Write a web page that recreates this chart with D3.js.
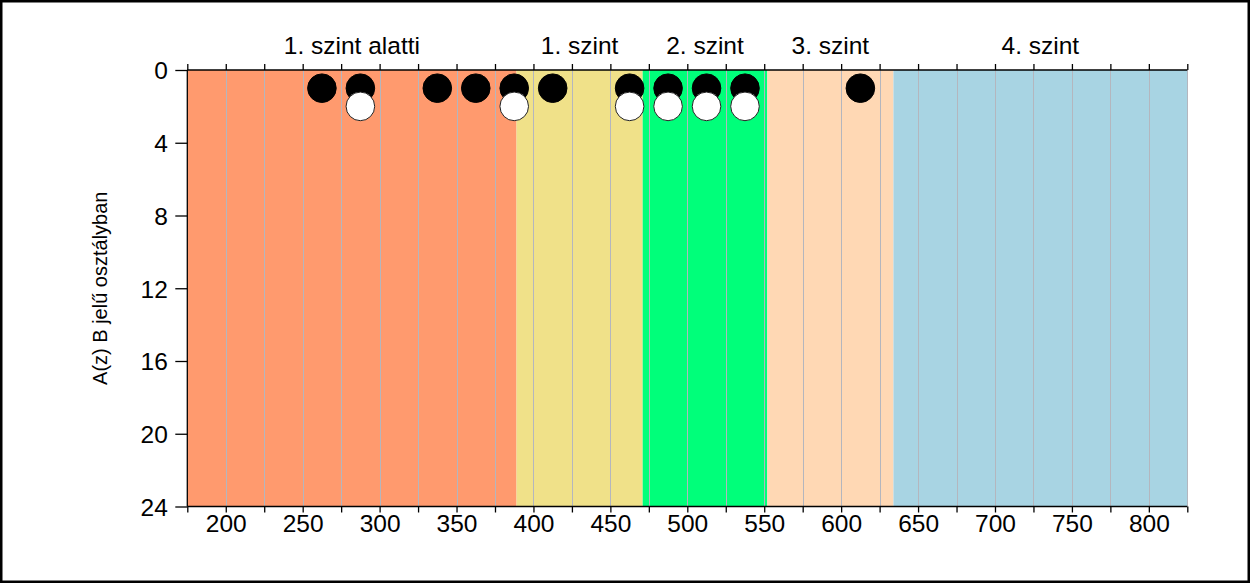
<!DOCTYPE html>
<html>
<head>
<meta charset="utf-8">
<script src="https://cdn.jsdelivr.net/npm/d3@7"></script>
<style>
  html, body { margin: 0; padding: 0; background: #fff; }
  svg { display: block; font-family: Arial, "Liberation Sans", sans-serif; }
</style>
</head>
<body>
<svg id="chart" width="1250" height="583"></svg>
<script>
// ---- data ----
const levelNames = ["1. szint alatti", "1. szint", "2. szint", "3. szint", "4. szint"];
const levelBounds = [175, 389, 471, 552, 634, 825];
const levelColors = ["#FF9A6E", "#F0E189", "#00FF7A", "#FFD8B4", "#A8D4E3"];
const blackX = [262.5, 287.5, 337.5, 362.5, 387.5, 412.5, 462.5, 487.5, 512.5, 537.5, 612.5];
const blackY = [1, 1, 1, 1, 1, 1, 1, 1, 1, 1, 1];
const whiteX = [287.5, 387.5, 462.5, 487.5, 512.5, 537.5];
const whiteY = [2, 2, 2, 2, 2, 2];
const xTickValues = [200, 250, 300, 350, 400, 450, 500, 550, 600, 650, 700, 750, 800];
const yTickValues = [0, 4, 8, 12, 16, 20, 24];
const yLabel = "A(z) B jelű osztályban";

// ---- layout ----
const svg = d3.select("#chart");
const W = 1250, H = 583;
const L = 187.3, R = 1187.3, T = 70, B = 506.5;

const x = d3.scaleLinear().domain([175, 825]).range([L, R]);
const y = d3.scaleLinear().domain([0, 24]).range([T, B]);

// outer frame
svg.append("rect").attr("x", 1.25).attr("y", 1.25).attr("width", W - 2.5).attr("height", H - 2.5)
  .attr("fill", "#fff").attr("stroke", "#000").attr("stroke-width", 2.5);

// bands
const bands = levelNames.map((n, i) => ({ name: n, x0: levelBounds[i], x1: levelBounds[i + 1], color: levelColors[i] }));
svg.append("g").selectAll("rect").data(bands).join("rect")
  .attr("x", d => x(d.x0)).attr("y", T)
  .attr("width", d => x(d.x1) - x(d.x0)).attr("height", B - T)
  .attr("fill", d => d.color);

// gridlines
const gridVals = d3.range(200, 826, 25);
svg.append("g").selectAll("line").data(gridVals).join("line")
  .attr("x1", d => Math.round(x(d)) + 0.5).attr("x2", d => Math.round(x(d)) + 0.5)
  .attr("y1", T).attr("y2", B)
  .attr("stroke", "#B4B6BE").attr("stroke-width", 1);

// level labels
svg.append("g").selectAll("text").data(bands).join("text")
  .attr("x", d => x((d.x0 + d.x1) / 2)).attr("y", 54)
  .attr("text-anchor", "middle").attr("font-size", 24.5).attr("fill", "#000")
  .text(d => d.name);

// axes
const minorTicks = d3.range(175, 826, 25);
const topAxis = d3.axisTop(x).tickValues(minorTicks).tickSize(6).tickFormat("");
svg.append("g").attr("transform", `translate(0,${T})`).call(topAxis)
  .call(g => g.select(".domain").attr("d", `M${L},0H${R}`));

const bottomAxis = d3.axisBottom(x).tickValues(minorTicks).tickSize(6)
  .tickFormat(d => xTickValues.includes(d) ? d : "");
const gb = svg.append("g").attr("transform", `translate(0,${B})`).call(bottomAxis);
gb.select(".domain").attr("d", `M${L},0H${R}`);
gb.selectAll("text").attr("font-size", 24.5).attr("font-family", "Arial, 'Liberation Sans', sans-serif")
  .attr("fill", "#000").attr("dy", 0).attr("y", 25.5);

const leftAxis = d3.axisLeft(y).tickValues(yTickValues).tickSize(12);
const gl = svg.append("g").attr("transform", `translate(${L},0)`).call(leftAxis);
gl.select(".domain").attr("d", `M0,${T}V${B}`);
gl.selectAll("text").attr("font-size", 24.5).attr("font-family", "Arial, 'Liberation Sans', sans-serif")
  .attr("fill", "#000").attr("x", -19.5).attr("dy", "0.36em");

svg.selectAll(".tick line, .domain").attr("stroke", "#000").attr("stroke-width", 1.3);

// y label
svg.append("text")
  .attr("transform", `translate(107,${(T + B) / 2}) rotate(-90)`)
  .attr("text-anchor", "middle").attr("font-size", 20).attr("fill", "#000")
  .text(yLabel);

// points
svg.append("g").selectAll("circle").data(blackX.map((v, i) => [v, blackY[i]])).join("circle")
  .attr("cx", d => x(d[0])).attr("cy", d => y(d[1])).attr("r", 14.3)
  .attr("fill", "#000").attr("stroke", "#000").attr("stroke-width", 1);
svg.append("g").selectAll("circle").data(whiteX.map((v, i) => [v, whiteY[i]])).join("circle")
  .attr("cx", d => x(d[0])).attr("cy", d => y(d[1])).attr("r", 14.3)
  .attr("fill", "#fff").attr("stroke", "#222").attr("stroke-width", 1);
</script>
</body>
</html>
